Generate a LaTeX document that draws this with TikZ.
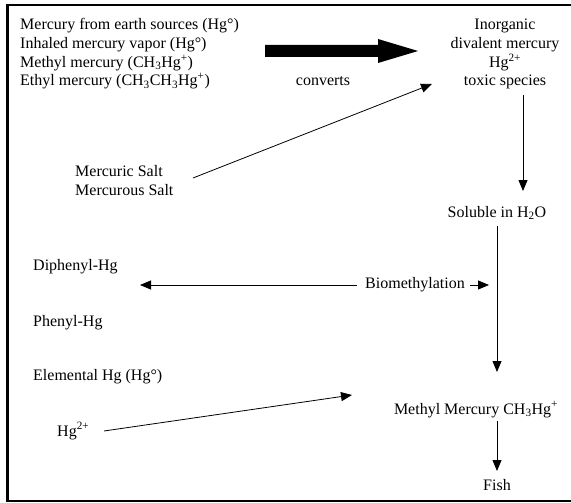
\documentclass[tikz,border=0pt]{standalone}
\usepackage{fontspec}
\setmainfont{Liberation Serif}
\usetikzlibrary{arrows.meta}
\begin{document}
\begin{tikzpicture}[x=1pt,y=-1pt,
  txt/.style={font=\fontsize{16}{18.7}\selectfont, inner sep=0pt},
  conn/.style={line width=0.8pt, -{Triangle[length=11pt,width=9pt]}},
  frame/.style={line width=2.2pt}]
\useasboundingbox (0,0) rectangle (571,503);
\draw[frame] (7,5) -- (580,5);
\draw[frame] (7,501) -- (580,501);
\draw[line width=3pt] (7,4) -- (7,502);
% nodes (multi-line nodes: base = last line)
\node[txt, anchor=base west, align=left] (src) at (20,86)
  {Mercury from earth sources (Hg°)\\Inhaled mercury vapor (Hg°)\\Methyl mercury (CH\textsubscript{3}Hg\textsuperscript{+})\\Ethyl mercury (CH\textsubscript{3}CH\textsubscript{3}Hg\textsuperscript{+})};
\node[txt, anchor=base] (conv) at (323,86) {converts};
\node[txt, anchor=base, align=center] (inorg) at (505,86)
  {Inorganic\\divalent mercury\\Hg\textsuperscript{2+}\\toxic species};
\node[txt, anchor=base west, align=left] (salt) at (75,195) {Mercuric Salt\\Mercurous Salt};
\node[txt, anchor=base] (sol) at (497,217) {Soluble in H\textsubscript{2}O};
\node[txt, anchor=base west] (diph) at (33,270) {Diphenyl-Hg};
\node[txt, anchor=base] (bio) at (415,288) {Biomethylation};
\node[txt, anchor=base west] (phen) at (33,326) {Phenyl-Hg};
\node[txt, anchor=base west] (elem) at (33,380) {Elemental Hg (Hg°)};
\node[txt, anchor=base] (mm) at (476,414) {Methyl Mercury CH\textsubscript{3}Hg\textsuperscript{+}};
\node[txt, anchor=base west] (hg) at (57,436) {Hg\textsuperscript{2+}};
\node[txt, anchor=base] (fish) at (497,490) {Fish};
% connector end points
\coordinate (saltA) at (193,178);
\coordinate (inorgA) at (432,84);
\coordinate (inorgB) at (523,95);
\coordinate (solA) at (523,191);
\coordinate (solB) at (497,226);
\coordinate (mmA) at (497,372);
\coordinate (bioA) at (357,285);
\coordinate (diphA) at (140,285);
\coordinate (bioB) at (470,285);
\coordinate (bioC) at (489,285);
\coordinate (hgA) at (104,431);
\coordinate (mmB) at (352,395);
\coordinate (mmC) at (497,421);
\coordinate (fishA) at (497,471);
% thick arrow from src to inorg
\fill (265,45) -- (378,45) -- (378,39) -- (418,51) -- (378,63) -- (378,57) -- (265,57) -- cycle;
% connectors
\draw[conn] (saltA) -- (inorgA);
\draw[conn] (inorgB) -- (solA);
\draw[conn] (solB) -- (mmA);
\draw[conn] (bioA) -- (diphA);
\draw[conn] (bioB) -- (bioC);
\draw[conn] (hgA) -- (mmB);
\draw[conn] (mmC) -- (fishA);
\end{tikzpicture}
\end{document}
